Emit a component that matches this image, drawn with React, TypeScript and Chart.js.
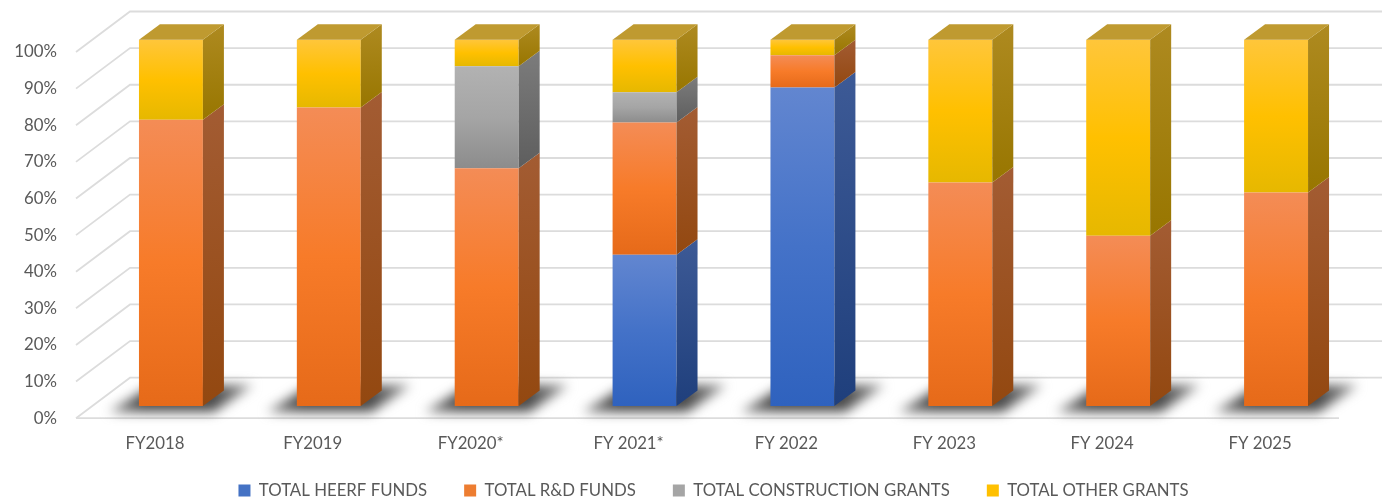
import React, { useEffect, useRef } from "react";
import { Chart, registerables } from "chart.js";

Chart.register(...registerables);

const categories = ["FY2018", "FY2019", "FY2020*", "FY 2021*", "FY 2022", "FY 2023", "FY 2024", "FY 2025"];
const heerf = [0, 0, 0, 41.3, 87, 0, 0, 0];
const rnd = [78.2, 81.5, 64.9, 36.1, 8.8, 61, 46.5, 58.3];
const construction = [0, 0, 27.9, 8.3, 0, 0, 0, 0];
const other = [21.8, 18.5, 7.2, 14.3, 4.2, 39, 53.5, 41.7];
const seriesNames = ["TOTAL HEERF FUNDS", "TOTAL R&D FUNDS", "TOTAL CONSTRUCTION GRANTS", "TOTAL OTHER GRANTS"];
const seriesValues = [heerf, rnd, construction, other];
const legendColors = ["#4472C4", "#ED7D31", "#A5A5A5", "#FFC000"];
const frontStops = [
  ["#6286D0", "#4472C8", "#2F62BE"],
  ["#F48C56", "#F77B29", "#E66A19"],
  ["#B2B2B2", "#A5A5A5", "#8C8C8C"],
  ["#FFC63A", "#FFC000", "#E6B800"],
];
const sideStops = [
  ["#3D5A96", "#1F3F7C"],
  ["#A35C33", "#934810"],
  ["#7C7C7C", "#5E5E5E"],
  ["#AE8A20", "#987600"],
];
const topColor = "#BF9A30";
const gridColor = "#DCDCDC";
const textColor = "#595959";
const fontFamily = "Lato, 'Open Sans', sans-serif";
const fontSize = 16.8;

const DEPTH_X = 54;
const DEPTH_Y = 40.5;
const BAR_SHIFT_X = 16;
const BAR_SHIFT_Y = 12.2;
const SIDE_X = 21;
const SIDE_Y = 15.5;

function frontGradient(c: any) {
  const chart = c.chart;
  if (c.type !== "data" || !chart.scales.y) return legendColors[c.datasetIndex];
  let start = 0;
  for (let i = 0; i < c.datasetIndex; i++) start += seriesValues[i][c.dataIndex];
  const end = start + seriesValues[c.datasetIndex][c.dataIndex];
  const y = chart.scales.y;
  const g = chart.ctx.createLinearGradient(0, y.getPixelForValue(end), 0, y.getPixelForValue(start));
  const s = frontStops[c.datasetIndex];
  g.addColorStop(0, s[0]);
  g.addColorStop(0.5, s[1]);
  g.addColorStop(1, s[2]);
  return g;
}

const scene3d = {
  id: "scene3d",
  afterLayout(chart: any) {
    if (chart.legend) {
      chart.legend.left += 6;
      chart.legend.right += 6;
      chart.legend.top -= 9;
      chart.legend.bottom -= 9;
    }
  },
  beforeDatasetsDraw(chart: any) {
    const { ctx, chartArea, scales } = chart;
    const { left, right } = chartArea;
    ctx.save();
    ctx.strokeStyle = gridColor;
    ctx.lineWidth = 1.8;
    scales.y.ticks.forEach((t: any) => {
      const y = scales.y.getPixelForValue(t.value);
      ctx.beginPath();
      ctx.moveTo(left, y);
      ctx.lineTo(left + DEPTH_X, y - DEPTH_Y);
      ctx.lineTo(right + DEPTH_X, y - DEPTH_Y);
      ctx.stroke();
    });
    const y0 = scales.y.getPixelForValue(0);
    ctx.beginPath();
    ctx.moveTo(left, y0);
    ctx.lineTo(right, y0);
    ctx.stroke();

    // soft floor shadows
    ctx.filter = "blur(6px)";
    const meta = chart.getDatasetMeta(0);
    meta.data.forEach((bar: any) => {
      const bl = bar.x - bar.width / 2 + BAR_SHIFT_X;
      const br = bar.x + bar.width / 2 + BAR_SHIFT_X;
      const by = bar.base - BAR_SHIFT_Y;
      const g = ctx.createLinearGradient(bl - 34, 0, br + 54, 0);
      g.addColorStop(0, "#8a8a8a");
      g.addColorStop(0.25, "#4a4a4a");
      g.addColorStop(0.7, "#4a4a4a");
      g.addColorStop(1, "#9a9a9a");
      ctx.fillStyle = g;
      ctx.beginPath();
      ctx.moveTo(bl - 30, by + 6);
      ctx.lineTo(br + 11, by + 6);
      ctx.lineTo(br + 50, by - 21);
      ctx.lineTo(bl + 14, by - 21);
      ctx.closePath();
      ctx.fill();
    });
    ctx.filter = "none";
    ctx.restore();

    // bars stand part-way back on the floor
    ctx.save();
    ctx.translate(BAR_SHIFT_X, -BAR_SHIFT_Y);
  },
  afterDatasetsDraw(chart: any) {
    const { ctx } = chart;
    const n = categories.length;
    for (let j = 0; j < n; j++) {
      let topBar: any = null;
      for (let i = 0; i < seriesValues.length; i++) {
        if (seriesValues[i][j] <= 0) continue;
        const bar = chart.getDatasetMeta(i).data[j];
        const xr = bar.x + bar.width / 2;
        const g = ctx.createLinearGradient(0, bar.y - SIDE_Y, 0, bar.base);
        g.addColorStop(0, sideStops[i][0]);
        g.addColorStop(1, sideStops[i][1]);
        ctx.fillStyle = g;
        ctx.beginPath();
        ctx.moveTo(xr, bar.y);
        ctx.lineTo(xr + SIDE_X, bar.y - SIDE_Y);
        ctx.lineTo(xr + SIDE_X, bar.base - SIDE_Y);
        ctx.lineTo(xr, bar.base);
        ctx.closePath();
        ctx.fill();
        topBar = bar;
      }
      if (topBar) {
        const xl = topBar.x - topBar.width / 2;
        const xr = topBar.x + topBar.width / 2;
        ctx.fillStyle = topColor;
        ctx.beginPath();
        ctx.moveTo(xl, topBar.y);
        ctx.lineTo(xl + SIDE_X, topBar.y - SIDE_Y);
        ctx.lineTo(xr + SIDE_X, topBar.y - SIDE_Y);
        ctx.lineTo(xr, topBar.y);
        ctx.closePath();
        ctx.fill();
      }
    }
    ctx.restore();
  },
};

export default function App() {
  const ref = useRef<HTMLCanvasElement>(null);
  useEffect(() => {
    document.body.style.margin = "0";
    const chart = new Chart(ref.current as HTMLCanvasElement, {
      type: "bar",
      data: {
        labels: categories,
        datasets: seriesNames.map((name, i) => ({
          label: name,
          data: seriesValues[i],
          backgroundColor: frontGradient,
          borderWidth: 0,
          clip: false,
          barPercentage: 0.81,
          categoryPercentage: 0.5,
        })),
      } as any,
      options: {
        responsive: false,
        animation: false,
        layout: { padding: { left: 0, right: 43, top: 52, bottom: -17 } },
        scales: {
          x: {
            stacked: true,
            grid: { display: false },
            border: { display: false },
            ticks: { color: textColor, font: { family: fontFamily, size: fontSize }, padding: 7, maxRotation: 0 },
            afterFit: (s: any) => {
              s.height = 36;
            },
          },
          y: {
            stacked: true,
            min: 0,
            max: 100,
            grid: { display: false },
            border: { display: false },
            ticks: {
              stepSize: 10,
              color: textColor,
              font: { family: fontFamily, size: fontSize },
              padding: 11,
              callback: (v: any) => v + "%",
            },
            afterFit: (s: any) => {
              s.width = 76;
            },
          },
        },
        plugins: {
          tooltip: { enabled: false },
          legend: {
            position: "bottom",
            fullSize: false,
            labels: {
              boxWidth: 12,
              boxHeight: 12,
              padding: 37,
              color: textColor,
              font: { family: fontFamily, size: fontSize },
              generateLabels: () =>
                seriesNames.map((text, i) => ({
                  text,
                  fillStyle: legendColors[i],
                  strokeStyle: legendColors[i],
                  lineWidth: 0,
                  fontColor: textColor,
                  datasetIndex: i,
                })),
            },
          },
        },
      } as any,
      plugins: [scene3d],
    });
    return () => chart.destroy();
  }, []);
  return <canvas ref={ref} width={1382} height={501} style={{ display: "block" }} />;
}
